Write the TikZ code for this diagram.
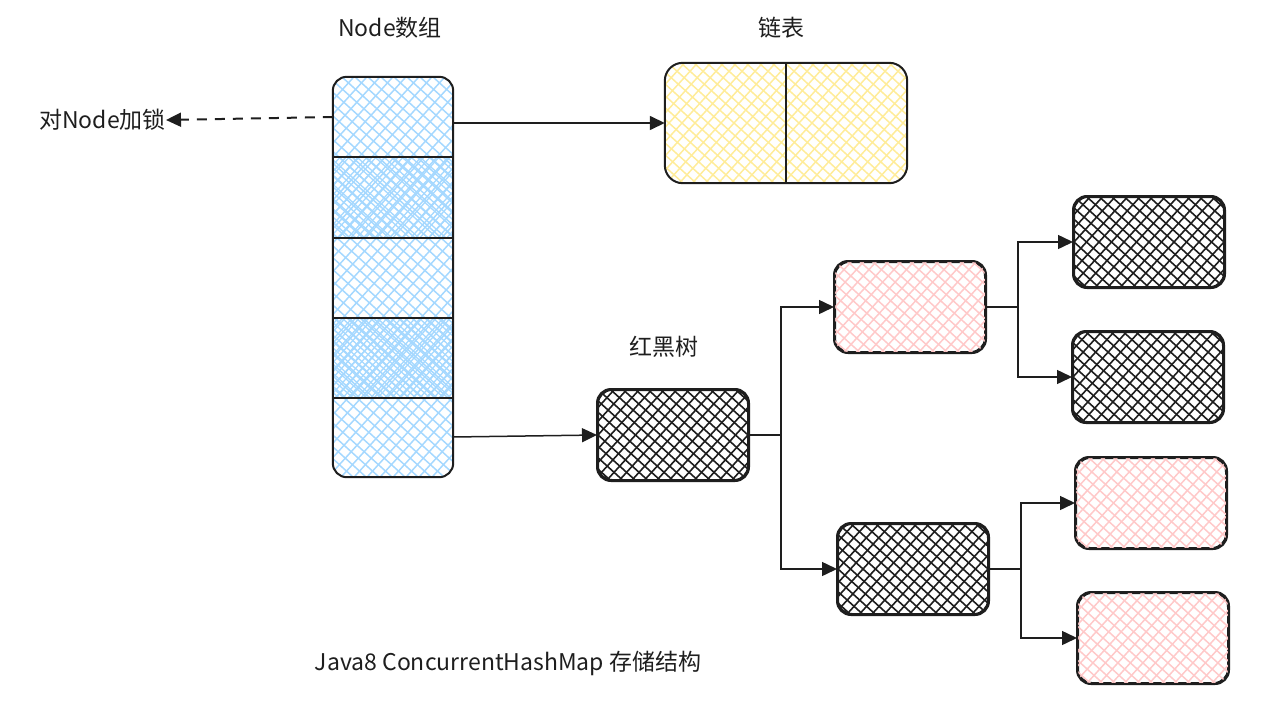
\documentclass[tikz,border=0pt]{standalone}
\usepackage{fontspec}
\setmainfont{Noto Sans CJK SC}
\usetikzlibrary{arrows.meta}
\definecolor{hblue}{HTML}{A5D8FF}
\definecolor{hyellow}{HTML}{FFEC99}
\definecolor{hpink}{HTML}{FFC9C9}
\definecolor{ink}{HTML}{1E1E1E}
% #1 node, #2 colour, #3 horizontal step, #4 line width, #5 corner radius
\newcommand\myhatch[5]{%
  \begin{scope}
    \clip[rounded corners=#5] (#1.north west) rectangle (#1.south east);
    \foreach \k in {-30,...,30} {
      \draw[#2,line width=#4] ([xshift=\k*#3]#1.center) +(-330,-300) -- +(330,300);
      \draw[#2,line width=#4] ([xshift=\k*#3]#1.center) +(-300,330) -- +(300,-330);
    }
  \end{scope}}
\tikzset{
  box/.style={draw=ink,line width=2pt,rounded corners=14pt,inner sep=0pt,minimum width=150pt,minimum height=90pt},
  cell/.style={inner sep=0pt,minimum width=120pt,minimum height=80pt},
  conn/.style={draw=ink,line width=1.5pt},
  arr/.style={conn,-{Triangle[length=15pt,width=14pt]}},
  lbl/.style={font=\fontsize{23pt}{26pt}\selectfont,text=ink,inner sep=0pt},
}
\begin{document}
\begin{tikzpicture}[x=1pt,y=-1pt]
\useasboundingbox (0,0) rectangle (1278,712);
% array
\node[inner sep=0pt,minimum width=120pt,minimum height=400pt] (array) at (393,277) {};
\node[cell] (c1) at (393,117) {};
\node[cell] (c2) at (393,198) {};
\node[cell] (c3) at (393,278) {};
\node[cell] (c4) at (393,358) {};
\node[cell] (c5) at (393,437) {};
\myhatch{array}{hblue}{13pt}{1.5pt}{14pt}
\myhatch{c2}{hblue}{9pt}{1.3pt}{0pt}
\myhatch{c4}{hblue}{7pt}{1.3pt}{0pt}
\draw[ink,line width=2pt] (c1.south west) -- (c1.south east);
\draw[ink,line width=2pt] (c2.south west) -- (c2.south east);
\draw[ink,line width=2pt] (c3.south west) -- (c3.south east);
\draw[ink,line width=2pt] (c4.south west) -- (c4.south east);
\draw[ink,line width=2pt,rounded corners=14pt] (array.north west) rectangle (array.south east);
\node[lbl] (arrlbl) at (390,28) {Node数组};
% lock
\node[lbl,anchor=east] (lock) at (166,120) {对Node加锁};
\draw[arr,line width=2pt,dash pattern=on 10pt off 8pt] (c1.west) -- (lock.east);
% linked list
\node[inner sep=0pt,minimum width=242pt,minimum height=120pt] (list) at (786,123) {};
\myhatch{list}{hyellow}{13pt}{1.5pt}{18pt}
\draw[ink,line width=2pt,rounded corners=18pt] (list.north west) rectangle (list.south east);
\draw[ink,line width=1.8pt] (list.north) -- (list.south);
\node[lbl] (listlbl) at (781,28) {链表};
\draw[arr] (c1.east |- list.west) -- (list.west);
% tree
\node[lbl] (treelbl) at (664,347) {红黑树};
\node[box] (root) at (673,435) {};
\node[box] (r1) at (910,307) {};
\node[box] (b1) at (913,569) {};
\node[box] (l1) at (1149,242) {};
\node[box] (l2) at (1148,377) {};
\node[box] (l3) at (1151,503) {};
\node[box] (l4) at (1153,638) {};
\myhatch{root}{ink}{12.5pt}{1.6pt}{14pt}
\myhatch{r1}{hpink}{12.5pt}{1.5pt}{14pt}
\myhatch{b1}{ink}{12.5pt}{1.6pt}{14pt}
\myhatch{l1}{ink}{12.5pt}{1.6pt}{14pt}
\myhatch{l2}{ink}{12.5pt}{1.6pt}{14pt}
\myhatch{l3}{hpink}{12.5pt}{1.5pt}{14pt}
\myhatch{l4}{hpink}{12.5pt}{1.5pt}{14pt}
\foreach \n in {root,r1,b1,l1,l2,l3,l4}
  \draw[ink,line width=2pt,rounded corners=14pt] (\n.north west) rectangle (\n.south east);
\draw[arr] (c5.east) -- (root.west);
\draw[arr] (root.east) -- ++(32,0) coordinate (j0) |- (r1.west);
\draw[arr] (j0) |- (b1.west);
\draw[arr] (r1.east) -- ++(32,0) coordinate (j1) |- (l1.west);
\draw[arr] (j1) |- (l2.west);
\draw[arr] (b1.east) -- ++(32,0) coordinate (j2) |- (l3.west);
\draw[arr] (j2) |- (l4.west);
% caption
\node[lbl] (cap) at (508,663) {Java8 ConcurrentHashMap 存储结构};
\end{tikzpicture}
\end{document}
